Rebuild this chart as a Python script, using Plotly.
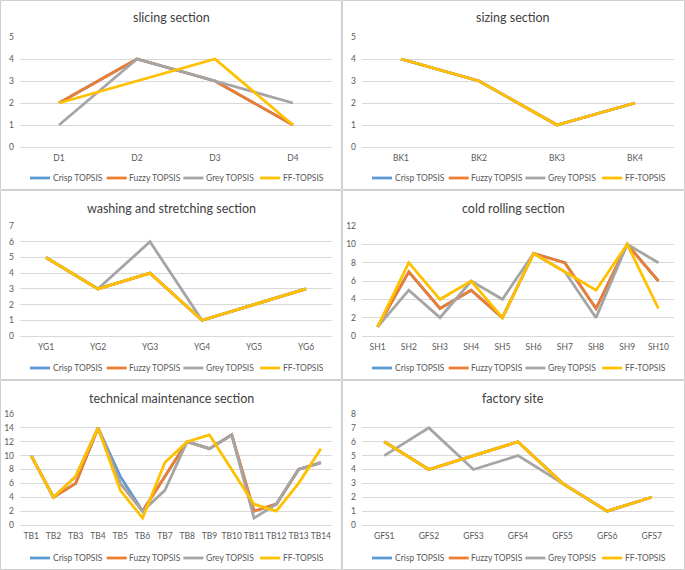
import plotly.graph_objects as go

W, H = 685, 570

series_names = ["Crisp TOPSIS", "Fuzzy TOPSIS", "Grey TOPSIS", "FF-TOPSIS"]
colors = ["#5B9BD5", "#ED7D31", "#A5A5A5", "#FFC000"]

# slicing section
slicing_cats = ["D1", "D2", "D3", "D4"]
slicing_crisp = [2, 4, 3, 1]
slicing_fuzzy = [2, 4, 3, 1]
slicing_grey = [1, 4, 3, 2]
slicing_ff = [2, 3, 4, 1]

# sizing section
sizing_cats = ["BK1", "BK2", "BK3", "BK4"]
sizing_crisp = [4, 3, 1, 2]
sizing_fuzzy = [4, 3, 1, 2]
sizing_grey = [4, 3, 1, 2]
sizing_ff = [4, 3, 1, 2]

# washing and stretching section
washing_cats = ["YG1", "YG2", "YG3", "YG4", "YG5", "YG6"]
washing_crisp = [5, 3, 4, 1, 2, 3]
washing_fuzzy = [5, 3, 4, 1, 2, 3]
washing_grey = [5, 3, 6, 1, 2, 3]
washing_ff = [5, 3, 4, 1, 2, 3]

# cold rolling section
cold_cats = ["SH1", "SH2", "SH3", "SH4", "SH5", "SH6", "SH7", "SH8", "SH9", "SH10"]
cold_crisp = [1, 7, 3, 5, 2, 9, 8, 3, 10, 6]
cold_fuzzy = [1, 7, 3, 5, 2, 9, 8, 3, 10, 6]
cold_grey = [1, 5, 2, 6, 4, 9, 7, 2, 10, 8]
cold_ff = [1, 8, 4, 6, 2, 9, 7, 5, 10, 3]

# technical maintenance section
tech_cats = ["TB1", "TB2", "TB3", "TB4", "TB5", "TB6", "TB7", "TB8", "TB9", "TB10",
             "TB11", "TB12", "TB13", "TB14"]
tech_crisp = [10, 4, 6, 14, 7, 2, 7, 12, 11, 13, 2, 3, 8, 9]
tech_fuzzy = [10, 4, 6, 14, 6, 2, 7, 12, 11, 13, 2, 3, 8, 9]
tech_grey = [10, 4, 7, 14, 6, 2, 5, 12, 11, 13, 1, 3, 8, 9]
tech_ff = [10, 4, 7, 14, 5, 1, 9, 12, 13, 8, 3, 2, 6, 11]

# factory site
factory_cats = ["GFS1", "GFS2", "GFS3", "GFS4", "GFS5", "GFS6", "GFS7"]
factory_crisp = [6, 4, 5, 6, 3, 1, 2]
factory_fuzzy = [6, 4, 5, 6, 3, 1, 2]
factory_grey = [5, 7, 4, 5, 3, 1, 2]
factory_ff = [6, 4, 5, 6, 3, 1, 2]

panels = [
    ("slicing section", slicing_cats, [slicing_crisp, slicing_fuzzy, slicing_grey, slicing_ff], 5, 1),
    ("sizing section", sizing_cats, [sizing_crisp, sizing_fuzzy, sizing_grey, sizing_ff], 5, 1),
    ("washing and stretching section", washing_cats, [washing_crisp, washing_fuzzy, washing_grey, washing_ff], 7, 1),
    ("cold rolling section", cold_cats, [cold_crisp, cold_fuzzy, cold_grey, cold_ff], 12, 2),
    ("technical maintenance section", tech_cats, [tech_crisp, tech_fuzzy, tech_grey, tech_ff], 16, 2),
    ("factory site", factory_cats, [factory_crisp, factory_fuzzy, factory_grey, factory_ff], 8, 1),
]

# pixel geometry: (panel x0, plot x0, plot x1) per column; (panel y0, plot ytop, plot ybottom) per row
col_x = [(0, 20, 332), (342, 362, 674)]
row_y = [(0, 37, 147), (190, 226, 336), (380, 414, 525)]

FONT = "Lato, Carlito, Calibri, 'Noto Sans', sans-serif"
TXT = "#595959"
LW = 2.8

fig = go.Figure()
layout = dict(
    width=W, height=H,
    margin=dict(l=0, r=0, t=0, b=0, autoexpand=False),
    paper_bgcolor="white", plot_bgcolor="white",
    font=dict(family=FONT, color=TXT, size=9),
    annotations=[], shapes=[], showlegend=False,
)

def px_x(x):
    return x / W

def px_y(y):
    return 1 - y / H

for i, (title, cats, data, ymax, dtick) in enumerate(panels):
    r, c = divmod(i, 2)
    px0, x0, x1 = col_x[c]
    py0, yt, yb = row_y[r]
    k = "" if i == 0 else str(i + 1)
    for name, col, vals in zip(series_names, colors, data):
        fig.add_trace(go.Scatter(
            x=cats, y=vals, mode="lines", name=name,
            line=dict(color=col, width=LW),
            xaxis="x" + k, yaxis="y" + k, showlegend=False,
            hoverinfo="x+y+name",
        ))
    layout["xaxis" + k] = dict(
        domain=[px_x(x0), px_x(x1)], anchor="y" + k, type="category",
        range=[-0.5, len(cats) - 0.5], showgrid=False, showline=False,
        ticks="", tickfont=dict(size=8.5, color=TXT), fixedrange=True,
        tickangle=0, automargin=False, ticklabelstandoff=4,
    )
    layout["yaxis" + k] = dict(
        domain=[px_y(yb), px_y(yt)], anchor="x" + k, range=[0, ymax],
        dtick=dtick, tick0=0, showgrid=True, gridcolor="#D9D9D9", gridwidth=1,
        zeroline=True, zerolinecolor="#D9D9D9", zerolinewidth=1,
        showline=False, ticks="", tickfont=dict(size=8.5, color=TXT),
        fixedrange=True, ticklabelstandoff=5, automargin=False,
    )
    pcx = px0 + 171
    layout["annotations"].append(dict(
        text=title, x=px_x(pcx), y=px_y(py0 + 18), xref="paper", yref="paper",
        showarrow=False, xanchor="center", yanchor="middle",
        font=dict(size=12.5, color="#404040", family=FONT),
    ))
    # legend (one per panel), drawn as line samples + labels
    ly = py0 + 178
    for j, (name, col) in enumerate(zip(series_names, colors)):
        lx = px0 + 30 + 76.7 * j
        layout["shapes"].append(dict(
            type="line", xref="paper", yref="paper",
            x0=px_x(lx), x1=px_x(lx + 20), y0=px_y(ly), y1=px_y(ly),
            line=dict(color=col, width=LW),
        ))
        layout["annotations"].append(dict(
            text=name, x=px_x(lx + 20.5), y=px_y(ly), xref="paper", yref="paper",
            showarrow=False, xanchor="left", yanchor="middle",
            font=dict(size=8.5, color=TXT, family=FONT),
        ))
    layout["shapes"].append(dict(
        type="rect", xref="paper", yref="paper",
        x0=px_x(px0 + 0.5), x1=px_x(px0 + 342 - 0.5 if c == 0 else W - 0.5),
        y0=px_y(py0 + 190 - 0.5 if r < 2 else H - 0.5), y1=px_y(py0 + 0.5),
        line=dict(color="#D0D0D0", width=1), fillcolor="rgba(0,0,0,0)", layer="below",
    ))

fig.update_layout(**layout)
fig.write_html("out.html", config={"displayModeBar": False},
               post_script="document.body.style.margin='0';document.body.style.padding='0';")
